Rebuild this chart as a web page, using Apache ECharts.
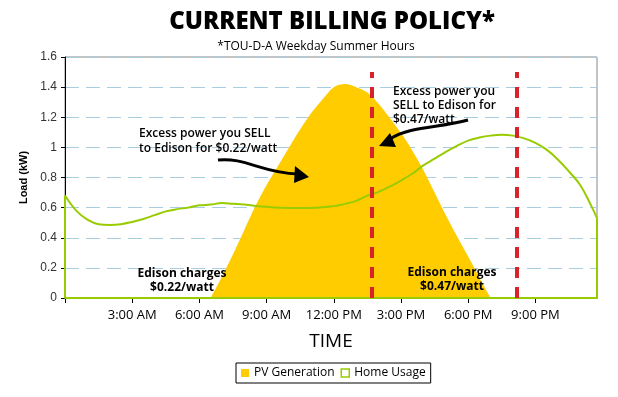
<!DOCTYPE html>
<html>
<head>
<meta charset="utf-8">
<title>Current Billing Policy</title>
<script src="https://cdn.jsdelivr.net/npm/echarts@6/dist/echarts.min.js"></script>
<style>
  html, body { margin: 0; padding: 0; background: #fff; }
  #chart { width: 618px; height: 397px; }
</style>
</head>
<body>
<div id="chart"></div>
<script>
// time of day in hours
const pvHours = [6.5, 7, 7.5, 8, 8.5, 9, 9.5, 10, 10.5, 11, 11.5, 12, 12.5, 13, 13.5, 14, 14.5, 15, 15.5, 16, 16.5, 17, 17.5, 18, 18.5, 19]
const pvLoad = [0, 0.14, 0.29, 0.45, 0.61, 0.75, 0.875, 1.0, 1.12, 1.23, 1.32, 1.40, 1.42, 1.40, 1.365, 1.29, 1.195, 1.095, 0.98, 0.85, 0.70, 0.55, 0.41, 0.275, 0.135, 0]

const homeHours = [0, 0.5, 1, 1.5, 2, 2.5, 3, 3.5, 4, 4.5, 5, 5.5, 6, 6.5, 7, 7.5, 8, 9, 10, 11, 12, 12.5, 13, 13.5, 14, 14.5, 15, 15.5, 16, 16.5, 17, 17.5, 18, 18.5, 19, 19.5, 20, 20.5, 21, 21.5, 22, 22.5, 23, 23.5, 23.75]
const homeLoad = [0.68, 0.58, 0.52, 0.49, 0.485, 0.49, 0.505, 0.525, 0.55, 0.575, 0.59, 0.60, 0.615, 0.62, 0.63, 0.625, 0.62, 0.605, 0.598, 0.598, 0.61, 0.625, 0.645, 0.68, 0.705, 0.74, 0.78, 0.825, 0.88, 0.925, 0.97, 1.01, 1.045, 1.065, 1.078, 1.084, 1.078, 1.06, 1.03, 0.985, 0.92, 0.84, 0.75, 0.61, 0.53]

// rate change lines (hours)
const rateLines = [13.7, 20.15]
const yTicks = { min: 0, max: 1.6, step: 0.2 }
const xTicks = { min: 0, max: 23.75, step: 3 }

const pvData = pvHours.map((h, i) => [h, pvLoad[i]])
const homeData = homeHours.map((h, i) => [h, homeLoad[i]])
// excel area outline: down the left edge, along the base, up the right edge
const outlineData = [
  [homeHours[0], homeLoad[0]],
  [homeHours[0], 0],
  [homeHours[homeHours.length - 1], 0],
  [homeHours[homeHours.length - 1], homeLoad[homeLoad.length - 1]]
]

const GREEN = '#99cc00'
const YELLOW = '#ffcc00'
const RED = '#d8232a'

function hourLabel (v) {
  if (v === 0 || v % 3 !== 0) return ''
  const h = v % 12 === 0 ? 12 : v % 12
  return h + ':00 ' + (v < 12 ? 'AM' : 'PM')
}

const chart = echarts.init(document.getElementById('chart'))

const noteFont = '600 12px "Open Sans"'

chart.setOption({
  animation: false,
  backgroundColor: '#fff',
  grid: {
    left: 65,
    right: 21,
    top: 57,
    bottom: 99,
    outerBoundsMode: 'none',
    show: true,
    borderColor: '#888',
    borderWidth: 1
  },
  legend: {
    left: 236,
    top: 363,
    borderColor: '#000',
    borderWidth: 1,
    padding: [4, 5],
    itemWidth: 8,
    itemHeight: 8,
    itemGap: 6,
    textStyle: { fontFamily: 'Open Sans', fontSize: 12, color: '#000' },
    data: [
      { name: 'PV Generation', icon: 'rect' },
      { name: 'Home Usage', icon: 'rect', itemStyle: { color: '#fff', borderColor: GREEN, borderWidth: 1.5 } }
    ]
  },
  xAxis: {
    type: 'value',
    min: xTicks.min,
    max: xTicks.max,
    interval: xTicks.step,
    name: 'TIME',
    nameLocation: 'middle',
    nameGap: 34,
    nameTextStyle: { fontFamily: 'Open Sans', fontSize: 19, color: '#000' },
    axisLine: { lineStyle: { color: '#000' } },
    axisTick: { length: 5, lineStyle: { color: '#000' } },
    axisLabel: { formatter: hourLabel, showMaxLabel: false, fontFamily: 'Open Sans', fontSize: 13, color: '#000', margin: 11 },
    splitLine: { show: false }
  },
  yAxis: {
    type: 'value',
    min: yTicks.min,
    max: yTicks.max,
    interval: yTicks.step,
    name: 'Load (kW)',
    nameLocation: 'middle',
    nameGap: 33,
    nameTextStyle: { fontFamily: 'Liberation Sans', fontWeight: 'bold', fontSize: 11, color: '#000' },
    axisLine: { show: true, lineStyle: { color: '#000' } },
    axisTick: { show: true, length: 4, lineStyle: { color: '#000' } },
    axisLabel: { fontFamily: 'Liberation Sans', fontSize: 12, color: '#333', margin: 8 },
    splitLine: { lineStyle: { color: '#a9cde0', type: [14, 7], width: 1 } }
  },
  series: [
    {
      name: 'PV Generation',
      type: 'line',
      data: pvData,
      smooth: 0.3,
      showSymbol: false,
      lineStyle: { width: 0 },
      itemStyle: { color: YELLOW },
      areaStyle: { color: YELLOW, opacity: 1 },
      z: 1
    },
    {
      name: 'Home Usage',
      type: 'line',
      data: homeData,
      smooth: 0.4,
      showSymbol: false,
      itemStyle: { color: GREEN },
      lineStyle: { color: GREEN, width: 2 },
      z: 2
    },
    {
      name: 'outline',
      type: 'line',
      data: outlineData,
      showSymbol: false,
      lineStyle: { color: GREEN, width: 2 },
      z: 3,
      markLine: {
        silent: true,
        symbol: ['none', 'none'],
        label: { show: false },
        lineStyle: { color: RED, width: 4, type: [11, 9] },
        data: rateLines.map(h => [{ coord: [h, 0] }, { coord: [h, 1.5] }])
      }
    }
  ],
  graphic: [
    { type: 'text', x: 332, y: 22, z: 100, style: { text: 'CURRENT BILLING POLICY*', font: '800 24px "Open Sans"', fill: '#000', align: 'center', verticalAlign: 'middle' } },
    { type: 'text', x: 316, y: 47, z: 100, style: { text: '*TOU-D-A Weekday Summer Hours', font: '12px "Open Sans"', fill: '#000', align: 'center', verticalAlign: 'middle' } },
    { type: 'text', x: 139, y: 126, z: 100, style: { text: 'Excess power you SELL\nto Edison for $0.22/watt', font: noteFont, lineHeight: 15, fill: '#000', align: 'left', verticalAlign: 'top' } },
    { type: 'text', x: 393, y: 85, z: 100, style: { text: 'Excess power you\nSELL to Edison for\n$0.47/watt', font: noteFont, lineHeight: 14, fill: '#000', align: 'left', verticalAlign: 'top' } },
    { type: 'text', x: 182, y: 267, z: 100, style: { text: 'Edison charges\n$0.22/watt', font: 'bold 12px "Open Sans"', lineHeight: 14, fill: '#000', align: 'center', verticalAlign: 'top' } },
    { type: 'text', x: 452, y: 266, z: 100, style: { text: 'Edison charges\n$0.47/watt', font: 'bold 12px "Open Sans"', lineHeight: 14, fill: '#000', align: 'center', verticalAlign: 'top' } },
    // arrows
    { type: 'bezierCurve', z: 100, shape: { x1: 218, y1: 160, cpx1: 245, cpy1: 157, cpx2: 262, cpy2: 173, x2: 298, y2: 174 }, style: { stroke: '#000', lineWidth: 3, fill: null } },
    { type: 'polygon', z: 100, shape: { points: [[295, 166], [309, 177], [294, 183]] }, style: { fill: '#000' } },
    { type: 'bezierCurve', z: 100, shape: { x1: 468, y1: 120, cpx1: 440, cpy1: 128, cpx2: 410, cpy2: 126, x2: 390, y2: 139 }, style: { stroke: '#000', lineWidth: 3, fill: null } },
    { type: 'polygon', z: 100, shape: { points: [[390, 133], [379, 146], [396, 147]] }, style: { fill: '#000' } }
  ]
})
</script>
</body>
</html>
